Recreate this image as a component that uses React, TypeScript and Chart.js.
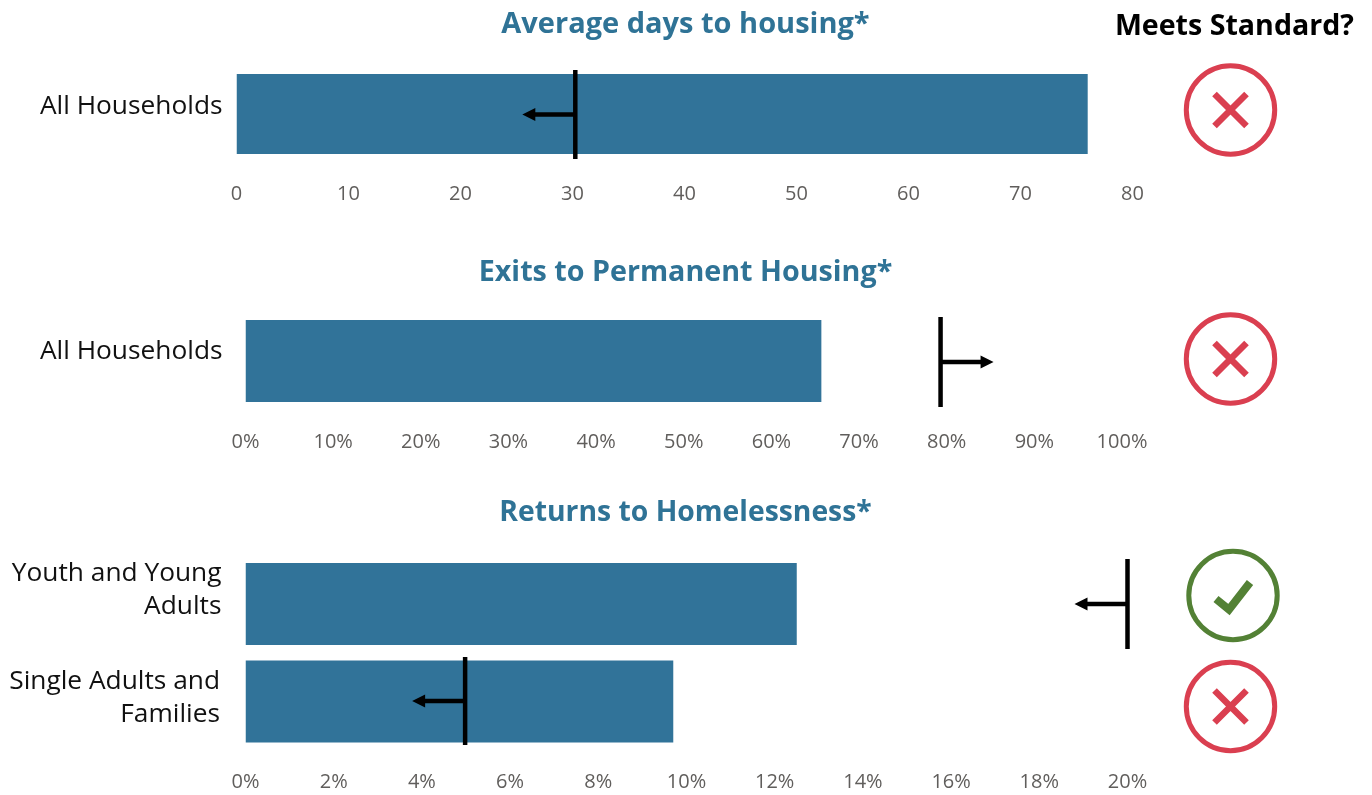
import React, { useEffect, useRef } from "react";
import { Chart, registerables } from "chart.js";

Chart.register(...registerables);

// ---- data ----
const daysTitle = "Average days to housing*";
const daysCategories = ["All Households"];
const daysValues = [76];
const daysTargets = [30.25];
const daysDirections = [-1];
const daysMeets = [false];

const exitsTitle = "Exits to Permanent Housing*";
const exitsCategories = ["All Households"];
const exitsValues = [65.7];
const exitsTargets = [79.3];
const exitsDirections = [1];
const exitsMeets = [false];

const returnsTitle = "Returns to Homelessness*";
const returnsCategories = [["Youth and Young", "Adults"], ["Single Adults and", "Families"]];
const returnsValues = [12.5, 9.7];
const returnsTargets = [20, 4.98];
const returnsDirections = [-1, -1];
const returnsMeets = [true, false];

// ---- style ----
const FONT = "'Open Sans', 'Noto Sans', sans-serif";
const BAR = "#317399";
const TITLE = "#2f7396";
const RED = "#da3f50";
const GREEN = "#538135";
const TICK = "#605e5c";

type Panel = {
  title: string; categories: any[]; values: number[]; targets: number[];
  directions: number[]; meets: boolean[]; max: number; step: number; suffix: string;
  top: number; height: number; plotTop: number; plotBottom: number; plotLeft: number; plotRight: number;
  titleY: number; titleSize: number; barPct: number; tickPad: number; labelPad: number;
  iconX: number[]; iconY: number[]; markerDy: number[]; markerHalf: number[];
  labelNudge: number[][];
};

const panels: Panel[] = [
  {
    title: daysTitle, categories: daysCategories, values: daysValues, targets: daysTargets,
    directions: daysDirections, meets: daysMeets, max: 80, step: 10, suffix: "",
    top: 0, height: 225, plotTop: 66, plotBottom: 162, plotLeft: 236.5, plotRight: 1132.5,
    titleY: 25, titleSize: 29, barPct: 80 / 96, tickPad: 20, labelPad: 14,
    iconX: [1230.5], iconY: [110], markerDy: [0.5], markerHalf: [44.5],
    labelNudge: [[0, -7]],
  },
  {
    title: exitsTitle, categories: exitsCategories, values: exitsValues, targets: exitsTargets,
    directions: exitsDirections, meets: exitsMeets, max: 100, step: 10, suffix: "%",
    top: 225, height: 245, plotTop: 312, plotBottom: 410, plotLeft: 245.5, plotRight: 1122,
    titleY: 273, titleSize: 28.7, barPct: 82 / 98, tickPad: 20, labelPad: 23,
    iconX: [1230.5], iconY: [359], markerDy: [1], markerHalf: [45],
    labelNudge: [[0, -9]],
  },
  {
    title: returnsTitle, categories: returnsCategories, values: returnsValues, targets: returnsTargets,
    directions: returnsDirections, meets: returnsMeets, max: 20, step: 2, suffix: "%",
    top: 470, height: 325, plotTop: 555.25, plotBottom: 750.25, plotLeft: 245.5, plotRight: 1127.5,
    titleY: 513, titleSize: 28.3, barPct: 82 / 97.5, tickPad: 20, labelPad: 24,
    iconX: [1233, 1230.5], iconY: [595.5, 706.5], markerDy: [0, -0.5], markerHalf: [45, 44],
    labelNudge: [[0, -13.5], [-1.5, -3]],
  },
];

function drawIcon(ctx: CanvasRenderingContext2D, x: number, y: number, ok: boolean) {
  const colour = ok ? GREEN : RED;
  ctx.save();
  ctx.strokeStyle = colour;
  ctx.lineWidth = 5;
  ctx.beginPath();
  ctx.arc(x, y, 44.2, 0, Math.PI * 2);
  ctx.stroke();
  ctx.lineWidth = ok ? 8 : 6.5;
  ctx.beginPath();
  if (ok) {
    ctx.moveTo(x - 17, y + 3.5);
    ctx.lineTo(x - 4, y + 14);
    ctx.lineTo(x + 17, y - 13);
  } else {
    ctx.moveTo(x - 16, y - 16);
    ctx.lineTo(x + 16, y + 16);
    ctx.moveTo(x + 16, y - 16);
    ctx.lineTo(x - 16, y + 16);
  }
  ctx.stroke();
  ctx.restore();
}

const overlay = (p: Panel) => ({
  id: "overlay",
  beforeDraw(chart: any) {
    chart.scales.y.getLabelItems().forEach((item: any, i: number) => {
      if (item.__nudged) return;
      item.__nudged = true;
      item.options.translation[0] += p.labelNudge[i][0];
      item.options.translation[1] += p.labelNudge[i][1];
    });
  },
  afterDraw(chart: any) {
    const { ctx, scales } = chart;
    ctx.save();
    ctx.fillStyle = TITLE;
    ctx.font = `bold ${p.titleSize}px ${FONT}`;
    ctx.textAlign = "center";
    ctx.textBaseline = "middle";
    ctx.fillText(p.title, chart.width / 2 - 0.5, p.titleY - p.top);
    p.targets.forEach((t, i) => {
      const x = scales.x.getPixelForValue(t);
      const y = scales.y.getPixelForValue(i) + p.markerDy[i];
      const half = p.markerHalf[i];
      ctx.strokeStyle = "#000";
      ctx.fillStyle = "#000";
      ctx.lineWidth = 4.5;
      ctx.beginPath();
      ctx.moveTo(x, y - half);
      ctx.lineTo(x, y + half);
      ctx.stroke();
      const d = p.directions[i];
      ctx.lineWidth = 4.5;
      ctx.beginPath();
      ctx.moveTo(x, y);
      ctx.lineTo(x + d * 42, y);
      ctx.stroke();
      ctx.beginPath();
      ctx.moveTo(x + d * 53, y);
      ctx.lineTo(x + d * 40, y - 6.5);
      ctx.lineTo(x + d * 40, y + 6.5);
      ctx.closePath();
      ctx.fill();
      drawIcon(ctx, p.iconX[i], p.iconY[i] - p.top, p.meets[i]);
    });
    ctx.restore();
  },
});

function BulletChart({ panel }: { panel: Panel }) {
  const ref = useRef<HTMLCanvasElement>(null);
  useEffect(() => {
    const p = panel;
    const chart = new Chart(ref.current!, {
      type: "bar",
      data: {
        labels: p.categories,
        datasets: [{
          data: p.values,
          backgroundColor: BAR,
          borderWidth: 0,
          categoryPercentage: 1,
          barPercentage: p.barPct,
        }],
      },
      options: {
        indexAxis: "y",
        animation: false,
        responsive: false,
        layout: { padding: { left: 0, right: 1372 - p.plotRight, top: p.plotTop - p.top, bottom: 0 } },
        plugins: {
          legend: { display: false },
          tooltip: { enabled: false },
          title: { display: false },
        },
        scales: {
          x: {
            min: 0,
            max: p.max,
            grid: { display: false, drawTicks: false },
            border: { display: false },
            afterFit: (s: any) => {
              s.height = p.top + p.height - p.plotBottom;
              s.paddingLeft = 0;
              s.paddingRight = 0;
            },
            ticks: {
              stepSize: p.step,
              autoSkip: false,
              maxRotation: 0,
              padding: p.tickPad,
              color: TICK,
              font: { family: FONT, size: 20 },
              callback: (v: any) => `${v}${p.suffix}`,
            },
          },
          y: {
            grid: { display: false, drawTicks: false },
            border: { display: false },
            afterFit: (s: any) => {
              s.width = p.plotLeft;
              s.paddingTop = 0;
              s.paddingBottom = 0;
            },
            ticks: {
              padding: p.labelPad,
              color: "#111",
              autoSkip: false,
              font: { family: FONT, size: 26.3, lineHeight: 33 / 26.3 },
            },
          },
        },
      },
      plugins: [overlay(p)],
    } as any);
    return () => chart.destroy();
  }, [panel]);
  return (
    <canvas
      ref={ref}
      width={1372}
      height={panel.height}
      style={{ position: "absolute", left: 0, top: panel.top, width: 1372, height: panel.height }}
    />
  );
}

export default function App() {
  return (
    <div style={{ position: "absolute", left: 0, top: 0, width: 1372, height: 795, overflow: "hidden", background: "#fff" }}>
      {panels.map((p) => <BulletChart key={p.title} panel={p} />)}
      <div style={{
        position: "absolute", right: 18, top: 5, fontFamily: FONT, fontWeight: 700,
        fontSize: 28.6, lineHeight: "38px", color: "#000", whiteSpace: "nowrap",
      }}>Meets Standard?</div>
    </div>
  );
}
